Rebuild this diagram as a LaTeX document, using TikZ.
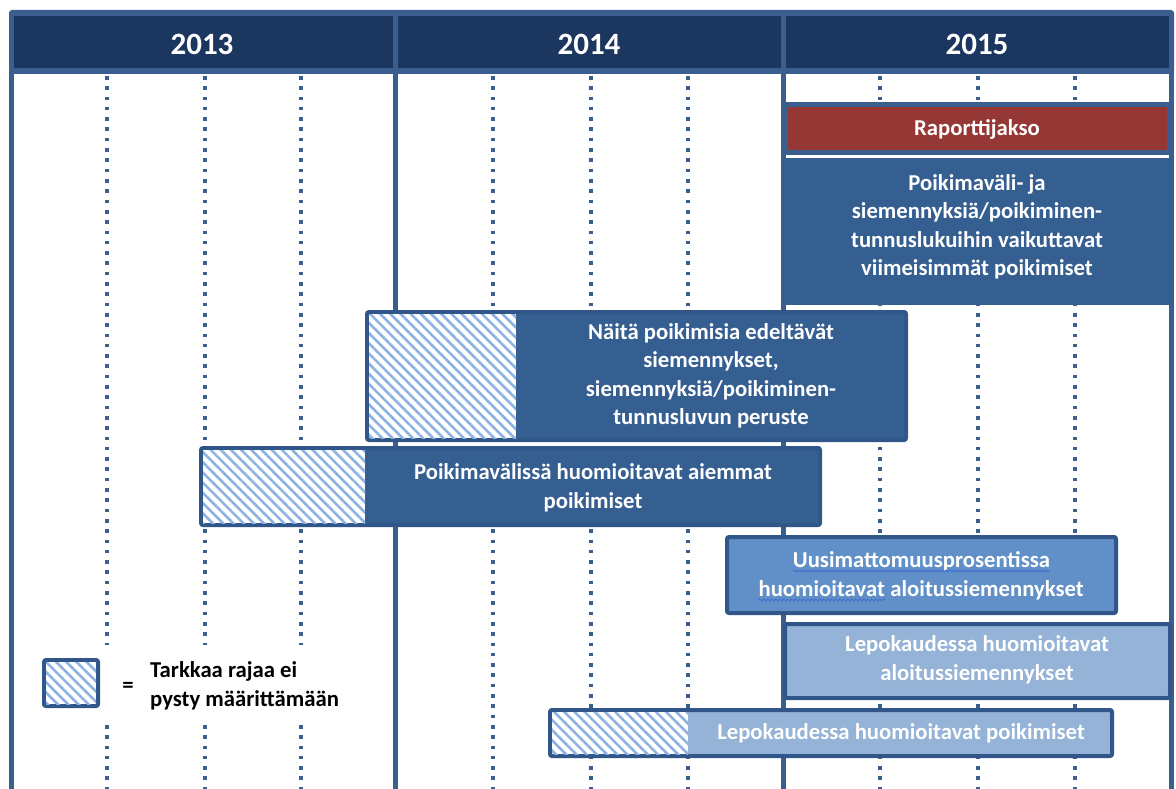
\documentclass[tikz,border=0pt]{standalone}
\usepackage{fontspec}
\setmainfont{Carlito}
\usetikzlibrary{patterns.meta,decorations.pathmorphing,calc}
\definecolor{navy}{HTML}{1B365F}
\definecolor{frameblue}{HTML}{3A5F8E}
\definecolor{boxblue}{HTML}{365F91}
\definecolor{boxedge}{HTML}{30568A}
\definecolor{repred}{HTML}{953735}
\definecolor{midblue}{HTML}{6190C8}
\definecolor{lightblue}{HTML}{95B3D7}
\definecolor{hatchblue}{HTML}{8DB3E2}
\definecolor{wavecol}{HTML}{3D6FD1}
\tikzset{
  yearline/.style={frameblue, line width=5pt},
  dotline/.style={frameblue, line width=3.6pt, dash pattern=on 3.6pt off 6.7pt},
  darkbox/.style={fill=boxblue, draw=boxedge, line width=4pt, rounded corners=2pt},
  midbox/.style={fill=midblue, draw=boxedge, line width=4pt, rounded corners=2pt},
  lightbox/.style={fill=lightblue, draw=boxedge, line width=4pt, rounded corners=2pt},
  hatch/.style={fill=white, postaction={pattern={Lines[angle=-45,distance=7.2pt,line width=2.6pt]}, pattern color=hatchblue}},
  boxtxt/.style={text=white, font=\fontsize{22.7}{28.5}\selectfont\bfseries, align=center, inner sep=0pt},
  yeartxt/.style={text=white, font=\fontsize{31}{36}\selectfont\bfseries, inner sep=0pt},
  legtxt/.style={text=black, font=\fontsize{22.7}{28.5}\selectfont\bfseries, align=left, inner sep=0pt},
  spell/.style={wavecol, line width=0.8pt, decorate, decoration={snake, amplitude=1.1pt, segment length=4pt}},
}
\begin{document}
\begin{tikzpicture}[x=1pt,y=-1pt]
\useasboundingbox (0,0) rectangle (1176,789);
% header
\fill[frameblue, rounded corners=3pt] (9,10) rectangle (1174,74);
\fill[navy] (14,16) rectangle (393,68);
\fill[navy] (398,16) rectangle (781,68);
\fill[navy] (786,16) rectangle (1169,68);
\node[yeartxt] (y13) at (202,44) {2013};
\node[yeartxt] (y14) at (589,44) {2014};
\node[yeartxt] (y15) at (977,44) {2015};
% frame and year lines
\draw[yearline] (11.5,72) -- (11.5,789);
\draw[yearline] (395.5,72) -- (395.5,789);
\draw[yearline] (783.5,72) -- (783.5,789);
\draw[yearline] (1171.5,72) -- (1171.5,789);
% quarter lines
\foreach \x in {107,205,301,493,591,688,880,978,1075}
  \draw[dotline] (\x,76) -- (\x,789);
% Raporttijakso
\draw[fill=repred, draw=frameblue, line width=5pt] (785.5,104.5) rectangle (1169.5,152.5);
\node[boxtxt] (rap) at (977,129) {Raporttijakso};
% Poikimavali box
\fill[boxblue] (783,158) rectangle (1172,305);
\node[boxtxt] (pv) at (977,227) {Poikimaväli- ja\\siemennyksiä/poikiminen-\\tunnuslukuihin vaikuttavat\\viimeisimmät poikimiset};
% Naita box
\draw[darkbox] (367,312) rectangle (906,440);
\path[hatch] (369,314) rectangle (516,438);
\node[boxtxt] (na) at (711,376) {Näitä poikimisia edeltävät\\siemennykset,\\siemennyksiä/poikiminen-\\tunnusluvun peruste};
% Poikimavalissa box
\draw[darkbox] (201,448) rectangle (820,525);
\path[hatch] (203,450) rectangle (365,523);
\node[boxtxt] (pa) at (593,488) {Poikimavälissä huomioitavat aiemmat\\poikimiset};
% Uusimattomuus box
\draw[midbox] (727,537) rectangle (1116,613);
\node[boxtxt, anchor=base] (u1) at (921.5,567) {Uusimattomuusprosentissa};
\node[boxtxt, anchor=base east] (u2a) at (885,596) {huomioitavat};
\node[boxtxt, anchor=base west] (u2b) at ($(u2a.base east)+(5.2,0)$) {aloitussiemennykset};
\draw[spell] ($(u1.base west)+(0,4)$) -- ($(u1.base east)+(0,4)$);
\draw[spell] ($(u2a.base west)+(0,4)$) -- ($(u2a.base east)+(0,4)$);
% Lepokaudessa aloitus
\draw[lightbox] (785,624) rectangle (1170,698);
\node[boxtxt] (la) at (977,660) {Lepokaudessa huomioitavat\\aloitussiemennykset};
% Lepokaudessa poikimiset
\draw[lightbox] (550,710) rectangle (1112,756);
\path[hatch] (552,712) rectangle (688,754);
\node[boxtxt] (lp) at (901,733) {Lepokaudessa huomioitavat poikimiset};
% legend
\fill[white] (28,645) rectangle (345,720);
\draw[fill=white, draw=boxedge, line width=4pt, rounded corners=2pt] (44,660) rectangle (98,706);
\path[hatch] (46,662) rectangle (96,704);
\node[legtxt] (eq) at (128,687) {=};
\node[legtxt, anchor=west] (leg) at (150,686) {Tarkkaa rajaa ei\\pysty määrittämään};
\end{tikzpicture}
\end{document}
